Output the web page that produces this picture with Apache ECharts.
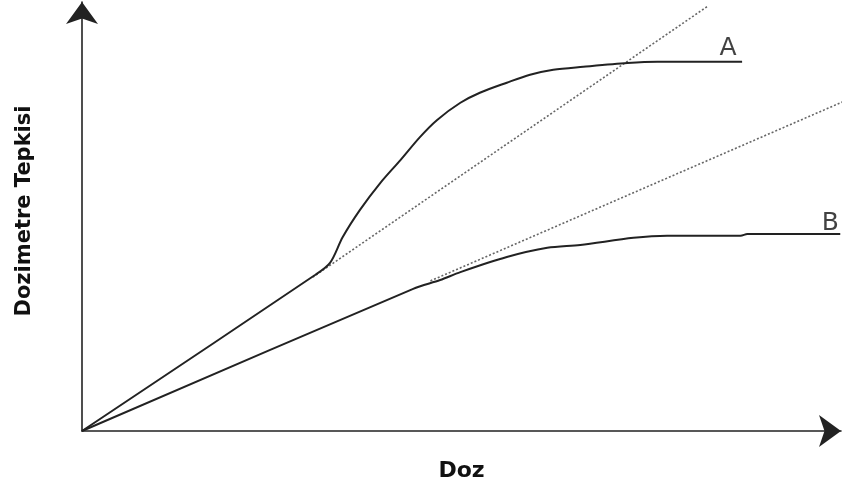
<!DOCTYPE html>
<html><head><meta charset="utf-8">
<script src="https://cdn.jsdelivr.net/npm/echarts@6/dist/echarts.min.js"></script>
<style>html,body{margin:0;padding:0;background:#fff}#c{width:842px;height:488px}</style>
</head><body><div id="c"></div>
<script>
// Dose (arbitrary units) and dosimeter response (arbitrary units)
var curveA = [[0,0],[31.1,37.3],[33.1,40.2],[34.8,46.4],[37.1,52.9],[39.8,59.3],[42.5,64.8],[45.1,70.3],[47.4,74.4],[50.5,78.5],[53.1,80.9],[56.7,83.3],[59.8,85.2],[62.9,86.4],[66.9,87.1],[72.8,88.0],[76.8,88.3],[88.1,88.3]];
var linearA = [[30.8,36.8],[83.6,101.7]];
var curveB = [[0,0],[44.2,34.0],[47.8,36.1],[50.5,38.0],[56.7,41.6],[62.1,43.8],[66.5,44.5],[73.6,46.2],[78.1,46.7],[87.9,46.7],[88.8,47.1],[101.2,47.1]];
var linearB = [[46.5,35.9],[101.5,78.7]];
var labelA = 'A', labelB = 'B';
var xName = 'Doz', yName = 'Dozimetre Tepkisi';
var xMax = 101.3, yMax = 102.6;

function endLabel(arr, text, off) {
  return {type: 'scatter', data: [arr[arr.length - 1]], symbolSize: 1, silent: true,
    itemStyle: {color: 'rgba(0,0,0,0)'},
    label: {show: true, formatter: text, position: 'inside', offset: off,
      fontFamily: 'DejaVu Sans', fontSize: 25, color: '#111'}};
}

var chart = echarts.init(document.getElementById('c'), null, {renderer: 'canvas'});
var axisLine = {show: true, symbol: ['none', 'arrow'], symbolSize: [24, 22],
  lineStyle: {color: '#222', width: 1.6}};
chart.setOption({
  animation: false,
  grid: {left: 82, right: 1, top: 2, bottom: 57, containLabel: false, outerBoundsMode: 'none'},
  xAxis: {type: 'value', min: 0, max: xMax, name: xName, nameLocation: 'middle', nameGap: 29,
    nameTextStyle: {fontFamily: 'DejaVu Sans', fontWeight: 'bold', fontSize: 22, color: '#111'},
    axisLine: axisLine, axisTick: {show: false}, axisLabel: {show: false}, splitLine: {show: false}},
  yAxis: {type: 'value', min: 0, max: yMax, name: yName, nameLocation: 'middle', nameGap: 47,
    nameTextStyle: {fontFamily: 'DejaVu Sans', fontWeight: 'bold', fontSize: 21, color: '#111', padding: [0, 0, 0, 11]},
    axisLine: axisLine, axisTick: {show: false}, axisLabel: {show: false}, splitLine: {show: false}},
  series: [
    {type: 'line', data: linearA, symbol: 'none', clip: false, silent: true,
      lineStyle: {color: '#666', width: 1.6, type: [2, 2]}},
    {type: 'line', data: linearB, symbol: 'none', clip: false, silent: true,
      lineStyle: {color: '#666', width: 1.6, type: [2, 2]}},
    {type: 'line', data: curveA, symbol: 'none', smooth: 0.3, clip: false,
      lineStyle: {color: '#222', width: 2}},
    {type: 'line', data: curveB, symbol: 'none', smooth: 0.3, clip: false,
      lineStyle: {color: '#222', width: 2}},
    endLabel(curveA, labelA, [-14, -13]),
    endLabel(curveB, labelB, [-10, -11])
  ]
});
</script></body></html>
